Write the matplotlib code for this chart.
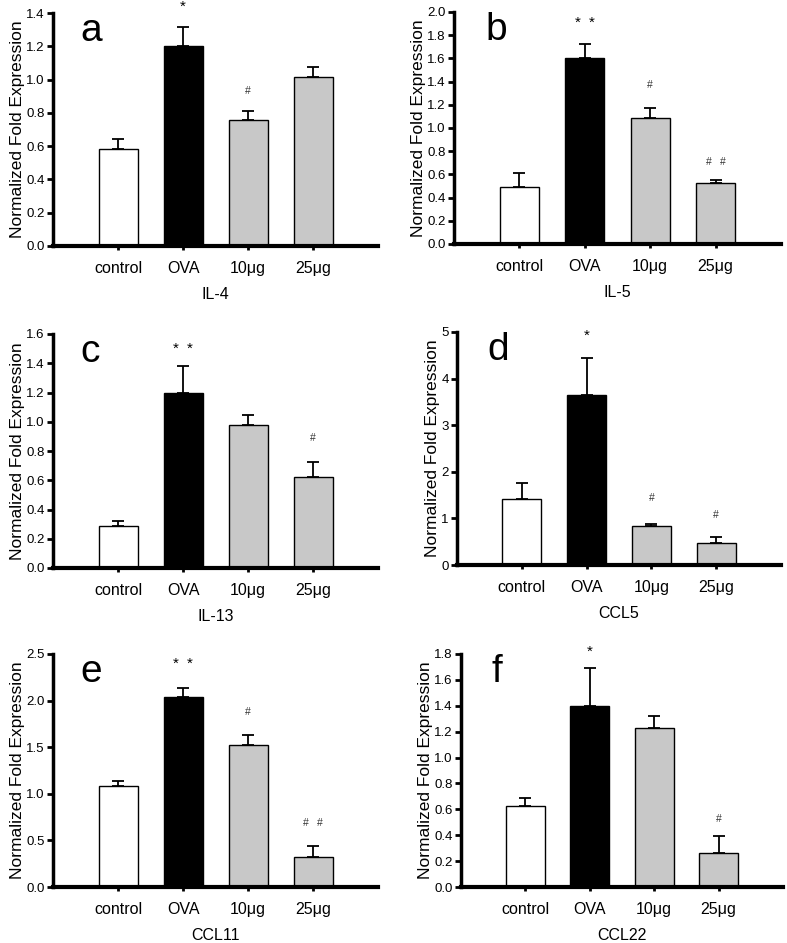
import matplotlib
matplotlib.use("Agg")
import matplotlib.pyplot as plt

plt.rcParams["font.family"] = ["Liberation Sans", "DejaVu Sans"]

groups = ["control", "OVA", "10μg", "25μg"]
colors = ["white", "black", "#c8c8c8", "#c8c8c8"]

# panel letter, gene, ymax, ytick step, tick format
panels = [
    ("a", "IL-4", 1.4, 0.2, "{:.1f}"),
    ("b", "IL-5", 2.0, 0.2, "{:.1f}"),
    ("c", "IL-13", 1.6, 0.2, "{:.1f}"),
    ("d", "CCL5", 5.0, 1.0, "{:.0f}"),
    ("e", "CCL11", 2.5, 0.5, "{:.1f}"),
    ("f", "CCL22", 1.8, 0.2, "{:.1f}"),
]

means = {
    "IL-4": [0.585, 1.20, 0.755, 1.015],
    "IL-5": [0.49, 1.60, 1.09, 0.525],
    "IL-13": [0.29, 1.195, 0.975, 0.62],
    "CCL5": [1.42, 3.65, 0.83, 0.47],
    "CCL11": [1.08, 2.04, 1.52, 0.32],
    "CCL22": [0.625, 1.40, 1.225, 0.265],
}
errs = {
    "IL-4": [0.06, 0.115, 0.055, 0.06],
    "IL-5": [0.12, 0.12, 0.085, 0.025],
    "IL-13": [0.03, 0.185, 0.07, 0.105],
    "CCL5": [0.33, 0.80, 0.05, 0.14],
    "CCL11": [0.06, 0.10, 0.115, 0.125],
    "CCL22": [0.06, 0.295, 0.095, 0.13],
}
# significance marks: (symbol, count, y value)
marks = {
    "IL-4": [None, ("*", 1, 1.44), ("#", 1, 0.93), None],
    "IL-5": [None, ("*", 2, 1.905), ("#", 1, 1.37), ("#", 2, 0.707)],
    "IL-13": [None, ("*", 2, 1.50), None, ("#", 1, 0.89)],
    "CCL5": [None, ("*", 1, 4.91), ("#", 1, 1.44), ("#", 1, 1.07)],
    "CCL11": [None, ("*", 2, 2.40), ("#", 1, 1.88), ("#", 2, 0.69)],
    "CCL22": [None, ("*", 1, 1.815), None, ("#", 1, 0.525)],
}

# axes boxes in pixels: left, right, top, bottom
W, H = 787, 943
boxes = [
    (53, 378, 13, 246),
    (454, 781, 12, 244),
    (53, 378, 334, 568),
    (457, 781, 332, 565),
    (53, 378, 654, 887),
    (461, 783, 654, 887),
]

fig = plt.figure(figsize=(W / 100, H / 100), dpi=100)

for k, ((letter, gene, ymax, step, fmt), (l, r, t, b)) in enumerate(zip(panels, boxes)):
    ax = fig.add_axes([l / W, 1 - b / H, (r - l) / W, (b - t) / H])
    x = list(range(len(groups)))
    ax.bar(x, means[gene], width=0.6, color=colors, edgecolor="black",
           linewidth=1.0, zorder=3)
    ax.errorbar(x, means[gene], yerr=[[0] * 4, errs[gene]], fmt="none",
                ecolor="black", elinewidth=1.3, capsize=4, capthick=1.3,
                zorder=2)
    for xi, m in zip(x, marks[gene]):
        if m is None:
            continue
        sym, cnt, yv = m
        offs = [0] if cnt == 1 else [-0.11, 0.11]
        for o in offs:
            if sym == "*":
                ax.text(xi + o, yv, sym, ha="center", va="center", fontsize=11)
            else:
                ax.text(xi + o, yv, sym, ha="center", va="center", fontsize=7.5,
                        color="#333333")
    ax.set_xlim(-1, 4)
    ax.set_ylim(0, ymax)
    n = int(round(ymax / step))
    yt = [i * step for i in range(n + 1)]
    ax.set_yticks(yt)
    ax.set_yticklabels([fmt.format(v) for v in yt], fontsize=9.5)
    ax.set_xticks(x)
    ax.set_xticklabels(groups, fontsize=11.5)
    ax.tick_params(axis="y", direction="out", length=4, width=2, pad=2)
    ax.tick_params(axis="x", direction="out", length=3, width=2, pad=8)
    ax.set_ylabel("Normalized Fold Expression", fontsize=12.5, labelpad=1)
    ax.set_xlabel(gene, fontsize=11.5, labelpad=8)
    for s in ["top", "right"]:
        ax.spines[s].set_visible(False)
    ax.spines["left"].set_linewidth(2.5)
    ax.spines["bottom"].set_linewidth(3)
    ax.spines["left"].set_zorder(4)
    ax.spines["bottom"].set_zorder(4)
    lx = 0.085 if k % 2 == 0 else 0.095
    ax.text(lx, 1.0, letter, transform=ax.transAxes, fontsize=28,
            ha="left", va="top")

fig.savefig("out.png", dpi=100)
